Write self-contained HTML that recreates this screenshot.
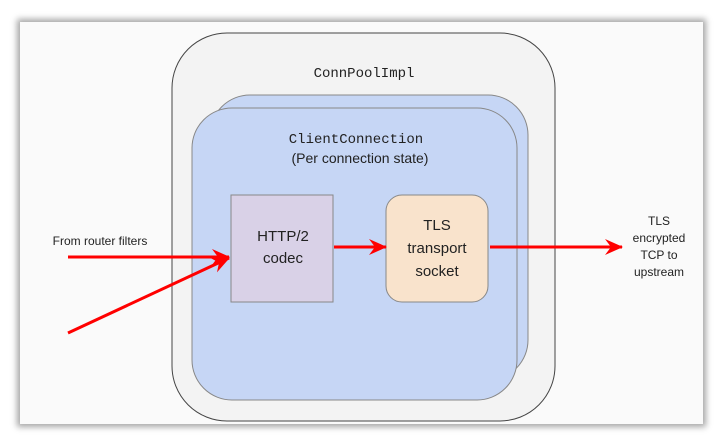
<!DOCTYPE html>
<html><head><style>
body{margin:0;background:#fff;width:720px;height:442px;overflow:hidden}
.frame{position:absolute;left:20px;top:22px;width:683px;height:402px;background:#fafafa;box-shadow:0 0 6px 3px rgba(0,0,0,0.35)}
svg{position:absolute;left:0;top:0}
</style></head><body>
<div class="frame"></div>
<svg width="720" height="442" font-family="Liberation Sans, sans-serif">
<defs><marker id="a" markerWidth="18" markerHeight="18" refX="17" refY="9" orient="auto" markerUnits="userSpaceOnUse" viewBox="0 0 18 18"><path d="M0,1 L18,9 L0,17 L6,9 z" fill="#f00"/></marker></defs>
<rect x="172" y="33" width="383" height="388" rx="55" fill="#f3f3f3" stroke="#444" stroke-width="1"/>
<rect x="210" y="95" width="318" height="285" rx="40" fill="#c6d6f5" stroke="#888"/>
<rect x="192" y="108" width="325" height="292" rx="40" fill="#c6d6f5" stroke="#888"/>
<text x="364" y="77" font-family="Liberation Mono, monospace" font-size="14" text-anchor="middle" fill="#222">ConnPoolImpl</text>
<text x="356" y="143" font-family="Liberation Mono, monospace" font-size="14" text-anchor="middle" fill="#222">ClientConnection</text>
<text x="360" y="163" font-size="14" text-anchor="middle" fill="#222">(Per connection state)</text>
<rect x="231" y="195" width="102" height="107" fill="#d9d1e7" stroke="#888"/>
<text x="283" y="241" font-size="15" text-anchor="middle" fill="#222">HTTP/2</text>
<text x="283" y="263" font-size="15" text-anchor="middle" fill="#222">codec</text>
<rect x="386" y="195" width="102" height="107" rx="16" fill="#f9e3cc" stroke="#888"/>
<text x="437" y="230" font-size="15" text-anchor="middle" fill="#222">TLS</text>
<text x="437" y="253" font-size="15" text-anchor="middle" fill="#222">transport</text>
<text x="437" y="276" font-size="15" text-anchor="middle" fill="#222">socket</text>
<g stroke="#f00" stroke-width="3" fill="none">
<line x1="68" y1="257" x2="229" y2="257" marker-end="url(#a)"/>
<line x1="68" y1="333" x2="229" y2="258" marker-end="url(#a)"/>
<line x1="334" y1="247" x2="386" y2="247" marker-end="url(#a)"/>
<line x1="490" y1="247" x2="622" y2="247" marker-end="url(#a)"/>
</g>
<text x="100" y="245" font-size="12" text-anchor="middle" fill="#222">From router filters</text>
<g font-size="12" text-anchor="middle" fill="#222">
<text x="659" y="225">TLS</text>
<text x="659" y="242">encrypted</text>
<text x="659" y="259">TCP to</text>
<text x="659" y="276">upstream</text>
</g>
</svg>
</body></html>
